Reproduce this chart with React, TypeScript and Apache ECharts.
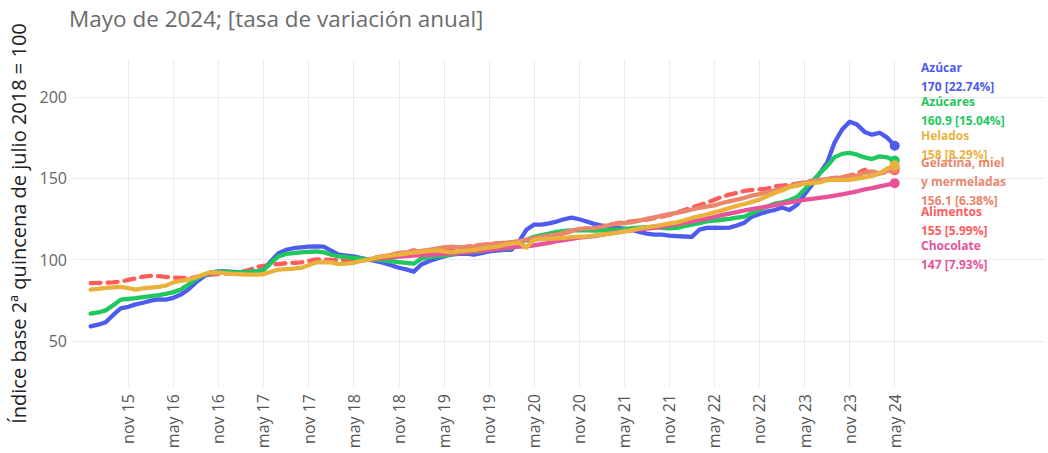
import React, { useEffect, useRef } from "react";
import * as echarts from "echarts";

// ---------- data ----------
const MONTHS_ES = ["ene", "feb", "mar", "abr", "may", "jun", "jul", "ago", "sep", "oct", "nov", "dic"];
const START_YEAR = 2015;
const START_MONTH = 5; // jun
const N_PERIODS = 108; // jun 15 .. may 24
const periods: string[] = Array.from({ length: N_PERIODS }, (_, i) => {
  const m = START_MONTH + i;
  const yy = String((START_YEAR + Math.floor(m / 12)) % 100).padStart(2, "0");
  return `${MONTHS_ES[m % 12]} ${yy}`;
});

const tickLabels = [
  "nov 15", "may 16", "nov 16", "may 17", "nov 17", "may 18", "nov 18", "may 19", "nov 19",
  "may 20", "nov 20", "may 21", "nov 21", "may 22", "nov 22", "may 23", "nov 23", "may 24",
];
const yTicks = [50, 100, 150, 200];

const alimentos = [
  85.5, 85.7, 85.8, 86, 86.5, 87.5, 88.5, 89.5, 90, 89.8, 89.4, 89,
  88.7, 88.5, 89.2, 90, 90.8, 91.2, 91.4, 91.6, 92.5, 93.5, 95.5, 96.2,
  96.8, 97.3, 97.8, 98, 98.3, 99.2, 100.2, 100.1, 99.8, 99.5, 99.8, 100,
  100.2, 100, 101.5, 102, 103, 104, 104.5, 105.7, 104.3, 104.8, 105.5, 106,
  106.5, 107, 107.8, 108.6, 109, 109.5, 110, 110.3, 110.5, 111, 111.5, 112.3,
  113.2, 114, 115.2, 116.3, 117.4, 118.4, 119, 119.8, 120.5, 121.5, 122.3, 123,
  123.5, 124, 124.6, 125.5, 126.4, 127.5, 128.8, 130.5, 132, 133.5, 135, 136.8,
  138.5, 140, 141, 142.2, 142.8, 143.2, 143.6, 145, 145.5, 146, 146.7, 147.5,
  148.5, 149, 149.5, 150.2, 150.8, 151.6, 153, 155.3, 152, 153, 153.8, 155,
];
const azucar = [
  59, 60, 61.5, 66, 70, 71, 72.5, 73.5, 74.8, 75.5, 75.4, 76.5,
  78.5, 81.6, 86, 89.5, 92.2, 92.8, 92.8, 92.5, 92.2, 92.4, 92.8, 93.5,
  99, 104, 106, 107, 107.5, 108, 108.2, 108, 105.5, 103, 102.5, 102,
  101, 100, 99, 98, 96.5, 95, 94, 92.6, 97, 99, 100.6, 102,
  103, 103.5, 103.7, 103, 104, 105, 105.5, 106, 106, 111, 118.4, 121.5,
  121.5, 122.3, 123.4, 124.8, 125.8, 124.8, 123.4, 122, 120.9, 120.2, 119.7, 119,
  118.4, 117, 116, 115.4, 115.4, 114.8, 114.5, 114.2, 114, 118.4, 119.5, 119.7,
  119.5, 119.7, 121, 122.7, 126.4, 128, 129.5, 130.5, 132, 130.5, 133.8, 140,
  146, 153, 159.6, 172, 180, 184.8, 183, 178.5, 176.8, 178, 175, 170,
];
const azucares = [
  66.8, 67.5, 68.8, 72, 75.4, 75.8, 76.3, 77, 77.6, 78.2, 79, 80,
  81.6, 84.6, 88, 90.5, 92.2, 92.5, 92.4, 92.2, 92.2, 92.5, 92.8, 93.5,
  98, 102, 103.5, 104, 104.5, 104.8, 105, 104.5, 103, 102, 101.5, 101,
  100.6, 100, 99.8, 99.6, 99, 98.5, 98, 97.5, 100.6, 101.5, 102, 102.5,
  103.2, 104, 104.5, 104.8, 105.3, 106, 106.4, 106.8, 107, 110, 112, 114,
  115, 116, 117, 117.6, 118, 118, 118, 117.8, 118, 118.2, 118.4, 118.8,
  119.3, 119.7, 120, 120.3, 119.5, 119.2, 119.5, 120.5, 121.5, 122.4, 123.5, 124,
  124.5, 125, 125.8, 126.4, 128.5, 130.7, 132.5, 134.4, 135.2, 136.5, 138.5, 143,
  148, 153, 157.4, 163, 165, 165.6, 164.5, 162.8, 161.8, 163.5, 162.9, 160.9,
];
// Chocolate and Gelatina start in "jul 18"
const SHORT_START = "jul 18";
const chocolate = [
  100, 100.5, 101, 101.4, 101.8, 102.2, 102.5, 102.8, 103, 103.3, 103.5,
  103.8, 104, 104.5, 105, 105.5, 106, 106.5, 107, 107.5, 108, 108.2, 108.8,
  109.5, 110.3, 111.3, 112, 112.7, 113.5, 114, 114.5, 115.2, 116, 116.8, 117.4,
  118, 118.6, 119.1, 119.5, 120.2, 121, 121.8, 122.6, 123.5, 124.3, 125.2, 126.2,
  127.3, 128.3, 129.2, 130.2, 131, 131.8, 132.6, 133.5, 134.4, 135.2, 136, 136.8,
  137.4, 138, 138.6, 139.3, 140.1, 141, 142, 143.2, 144, 145, 146, 147,
];
const gelatina = [
  100, 101, 102, 103, 104, 104.5, 105, 105.3, 106, 106.8, 107.5,
  108, 107.5, 107.8, 108.2, 108.8, 109.3, 109.8, 110.2, 110.8, 111.3, 112.3, 113.3,
  114, 114.8, 115.4, 116.6, 117.8, 118.9, 119.2, 119.4, 120.2, 121.2, 122, 122.5,
  122.9, 124, 125, 126, 127, 128, 128.7, 129.7, 130.8, 131.8, 132.5, 133.3,
  134.8, 135.8, 136.9, 138, 139.3, 140.3, 141.4, 142.5, 143.6, 145, 146.5, 147.4,
  148.2, 149, 149.5, 150, 150.6, 151.2, 151.6, 153.5, 154.3, 152.9, 154.5, 156.1,
];
const helados = [
  81.6, 82, 82.6, 83, 83.2, 82.5, 81.6, 82.4, 82.8, 83.2, 84, 86,
  87, 87.7, 89, 90.8, 92.2, 92, 91.5, 91.2, 91, 90.8, 90.8, 91,
  92.5, 93.9, 94.2, 94.5, 94.9, 96.5, 98.3, 98.5, 98.3, 97.2, 97.5, 98,
  99.3, 100, 101.3, 102, 102.5, 103, 103.7, 104.3, 104.8, 105.3, 105.7, 105,
  104.5, 105, 105.5, 106, 106.7, 107.4, 108, 109, 109.8, 110.4, 107.4, 112.3,
  112.6, 112.8, 113, 113.4, 113.8, 114.1, 114.3, 114.8, 115.4, 116, 116.4, 117.3,
  118.1, 119, 119.8, 120.5, 121.3, 122.2, 122.9, 124.2, 125.6, 126.6, 127.7, 129,
  130.3, 131.7, 133, 134.2, 135.5, 136.9, 139, 141, 142.5, 144.5, 145.5, 146.7,
  147, 147.5, 148.8, 149, 149, 149, 149.8, 150.5, 151.5, 153, 156, 158,
];

const seriesNames = ["Alimentos", "Azúcar", "Azúcares", "Chocolate", "Gelatina, miel y mermeladas", "Helados"];
const seriesValues = [alimentos, azucar, azucares, chocolate, gelatina, helados];
const seriesStarts = ["jun 15", "jun 15", "jun 15", SHORT_START, SHORT_START, "jun 15"];
const seriesColors = ["#FF5C5C", "#4E5BEF", "#1FC85C", "#E8529B", "#E9866C", "#EAB13C"];

const labelLines = [
  ["Azúcar", "170 [22.74%]"],
  ["Azúcares", "160.9 [15.04%]"],
  ["Helados", "158 [8.29%]"],
  ["Gelatina, miel", "y mermeladas", "156.1 [6.38%]"],
  ["Alimentos", "155 [5.99%]"],
  ["Chocolate", "147 [7.93%]"],
];
const labelColors = ["#4E5BEF", "#1FC85C", "#EAB13C", "#E9866C", "#FF5C5C", "#E8529B"];
const labelTops = [58.5, 92.5, 126.5, 153.5, 202.5, 236.5];

const TITLE = "Mayo de 2024; [tasa de variación anual]";
const Y_NAME = "Índice base 2ª quincena de julio 2018 = 100";

export default function App() {
  const ref = useRef<HTMLDivElement>(null);
  useEffect(() => {
    if (!ref.current) return;
    const chart = echarts.init(ref.current, undefined, { renderer: "svg" });
    const font = "'Open Sans', 'Noto Sans', sans-serif";
    const tickIdx = tickLabels.map((t) => periods.indexOf(t));

    const series = seriesNames.map((name, s) => {
      const start = periods.indexOf(seriesStarts[s]);
      const vals = seriesValues[s];
      const data = vals.map((v, j) => {
        const item: any = { value: [start + j, v] };
        if (j === vals.length - 1) {
          item.symbol = "circle";
          item.symbolSize = 10;
        }
        return item;
      });
      return {
        name,
        type: "line",
        data,
        symbol: "none",
        showSymbol: true,
        smooth: false,
        color: seriesColors[s],
        itemStyle: { color: seriesColors[s] },
        lineStyle: {
          width: 4.3,
          color: seriesColors[s],
          type: name === "Alimentos" ? [10, 7] : "solid",
          cap: "round",
          join: "round",
        },
        emphasis: { disabled: true },
        z: 2 + s,
      };
    });

    const graphics: any[] = labelLines.map((lines, k) => ({
      type: "text",
      left: 921,
      top: labelTops[k],
      style: {
        text: lines.join("\n"),
        fill: labelColors[k],
        font: `bold 12px ${font}`,
        lineHeight: 18.6,
      },
      z: 10,
    }));
    graphics.push({
      type: "text",
      left: 922,
      top: -13,
      style: {
        text: "{a|c o m o }{b|V a m o s}",
        rich: {
          a: { fill: "#9b93ea", fontSize: 14, fontFamily: font },
          b: { fill: "#5b4fdc", fontSize: 14, fontWeight: "bold", fontFamily: font },
        },
      },
    });

    chart.setOption({
      animation: false,
      textStyle: { fontFamily: font },
      title: {
        text: TITLE,
        left: 64,
        top: 2,
        textStyle: { fontSize: 22.5, fontWeight: "normal", color: "#6b6b6b", fontFamily: font },
      },
      grid: { left: 73, right: 3, top: 60, bottom: 66, containLabel: false, outerBoundsMode: "none" } as any,
      xAxis: {
        type: "value",
        min: -2.35,
        max: 127,
        axisLine: { show: false },
        axisTick: { show: false, customValues: tickIdx },
        axisLabel: {
          customValues: tickIdx,
          rotate: 90,
          fontSize: 16,
          color: "#555",
          margin: 7,
          formatter: (v: number) => periods[Math.round(v)] ?? "",
        },
        splitLine: { show: true, lineStyle: { color: "#ebebeb", width: 1 } },
      },
      yAxis: {
        type: "value",
        min: 21.7,
        max: 222.7,
        name: Y_NAME,
        nameLocation: "middle",
        nameGap: 41,
        nameTextStyle: { fontSize: 20, color: "#222", fontFamily: font },
        axisLine: { show: false },
        axisTick: { show: false, customValues: yTicks },
        axisLabel: { customValues: yTicks, fontSize: 16, color: "#666", margin: 6 },
        splitLine: { show: true, lineStyle: { color: "#ebebeb", width: 1 } },
      },
      series,
      graphic: graphics,
    } as any);
    return () => chart.dispose();
  }, []);
  return <div ref={ref} style={{ width: 1048, height: 453, position: "absolute", left: 0, top: 0, background: "#fff" }} />;
}
